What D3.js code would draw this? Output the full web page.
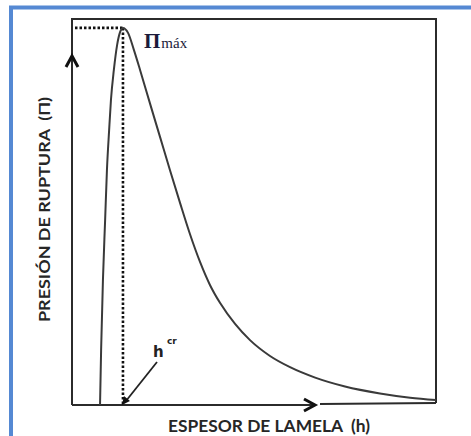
<!DOCTYPE html>
<html><head><meta charset="utf-8">
<script src="https://cdn.jsdelivr.net/npm/d3@7"></script>
<style>body{margin:0;background:#fff}svg{display:block}text{white-space:pre}</style>
</head><body>
<svg id="c" width="471" height="436"></svg>
<script>
// Data (thickness h in % of axis, rupture pressure Π in % of axis)
const hValues  = [7.7, 8.0, 8.5, 9.1, 9.6, 10.2, 10.7, 11.5, 12.4, 13.2, 14.0, 15.4, 17.0, 18.7, 21.4, 24.2, 26.9, 29.7, 32.4, 35.2, 37.9, 40.7, 44.8, 48.9, 54.4, 59.9, 66.8, 75.0, 84.6, 92.9, 100];
const piValues = [0, 14.3, 32.4, 47.9, 60.9, 71.2, 79.0, 86.8, 93.3, 96.6, 97.7, 96.4, 92.0, 86.8, 78.2, 69.4, 60.9, 52.3, 44.3, 37.0, 31.1, 26.4, 21.0, 16.8, 12.7, 9.8, 7.1, 4.8, 3.0, 1.9, 1.3];
const peak = [14.0, 97.7];           // h_cr, Π_max
const axisLabels = ["ESPESOR DE LAMELA  (h)", "PRESIÓN DE RUPTURA  (Π)"];
const annotations = ["Π", "máx", "h", "cr"];

const svg = d3.select("#c");
const x = d3.scaleLinear().domain([0, 100]).range([72, 436]);
const y = d3.scaleLinear().domain([0, 100]).range([405, 19]);
const ink = "#2b2b2b";

// blue page border
svg.append("path").attr("d", "M11,436 V7.5 H471").attr("fill", "none")
  .attr("stroke", "#5589d3").attr("stroke-width", 4);

// frame
svg.append("path")
  .attr("d", `M${x(0)},${y(0)} V${y(100)} H${x(100)} V${y(0) - 2}`)
  .attr("fill", "none").attr("stroke", ink).attr("stroke-width", 2);
// bottom axis line with gap after arrow
svg.append("line").attr("x1", x(0)).attr("x2", 314).attr("y1", y(0)).attr("y2", y(0))
  .attr("stroke", ink).attr("stroke-width", 2);
svg.append("line").attr("x1", 320).attr("x2", x(100)).attr("y1", y(0) - 1).attr("y2", y(0) - 2)
  .attr("stroke", ink).attr("stroke-width", 2);
// x arrow head
svg.append("path").attr("d", `M304,${y(0) - 6} L315,${y(0)} L304,${y(0) + 6}`)
  .attr("fill", "none").attr("stroke", "#111").attr("stroke-width", 3);
// y arrow head
svg.append("path").attr("d", `M${x(0) - 6},67 L${x(0)},56 L${x(0) + 6},67`)
  .attr("fill", "none").attr("stroke", "#111").attr("stroke-width", 3);

// dotted guides to the peak
svg.append("line").attr("x1", x(0) + 3).attr("x2", x(peak[0])).attr("y1", y(peak[1])).attr("y2", y(peak[1]))
  .attr("stroke", "#111").attr("stroke-width", 2.6).attr("stroke-dasharray", "2.5,2");
svg.append("line").attr("x1", x(peak[0])).attr("x2", x(peak[0])).attr("y1", y(peak[1])).attr("y2", y(0))
  .attr("stroke", "#111").attr("stroke-width", 2.6).attr("stroke-dasharray", "2.5,2");

// curve
const data = hValues.map((h, i) => [h, piValues[i]]);
svg.append("path").datum(data)
  .attr("d", d3.line().x(d => x(d[0])).y(d => y(d[1])).curve(d3.curveMonotoneX))
  .attr("fill", "none").attr("stroke", "#3a3a3a").attr("stroke-width", 2);

// Π max label
const pm = svg.append("text").attr("x", 144).attr("y", 48)
  .attr("font-family", "Liberation Serif, DejaVu Serif, serif").attr("fill", "#1b1b3a");
pm.append("tspan").text(annotations[0]).attr("font-size", 21).attr("font-weight", "bold");
pm.append("tspan").text(annotations[1]).attr("font-size", 15).attr("dx", 1);

// h_cr label with pointer
svg.append("line").attr("x1", 157).attr("y1", 362).attr("x2", x(peak[0]) + 3).attr("y2", y(0) - 4)
  .attr("stroke", "#222").attr("stroke-width", 1.8);
svg.append("path").attr("d", `M${x(peak[0]) - 1},${y(0)} l2,-9 l6,5 z`).attr("fill", "#111");
svg.append("text").attr("x", 153).attr("y", 357).text(annotations[2])
  .attr("font-family", "DejaVu Sans, sans-serif").attr("font-weight", "bold").attr("font-size", 15).attr("fill", "#222");
svg.append("text").attr("x", 167).attr("y", 344).text(annotations[3])
  .attr("font-family", "DejaVu Sans, sans-serif").attr("font-weight", "bold").attr("font-size", 9).attr("fill", "#222");

// axis labels
svg.append("text").attr("x", 168).attr("y", 432).text(axisLabels[0])
  .attr("font-family", "Lato, Open Sans, sans-serif").attr("font-weight", "bold").attr("font-size", 17)
  .attr("textLength", 202).attr("lengthAdjust", "spacingAndGlyphs").attr("fill", "#262626");
svg.append("text").attr("transform", "translate(50,322) rotate(-90)").text(axisLabels[1])
  .attr("font-family", "Lato, Open Sans, sans-serif").attr("font-weight", "bold").attr("font-size", 15.5)
  .attr("textLength", 225).attr("lengthAdjust", "spacingAndGlyphs").attr("fill", "#262626");
</script>
</body></html>
